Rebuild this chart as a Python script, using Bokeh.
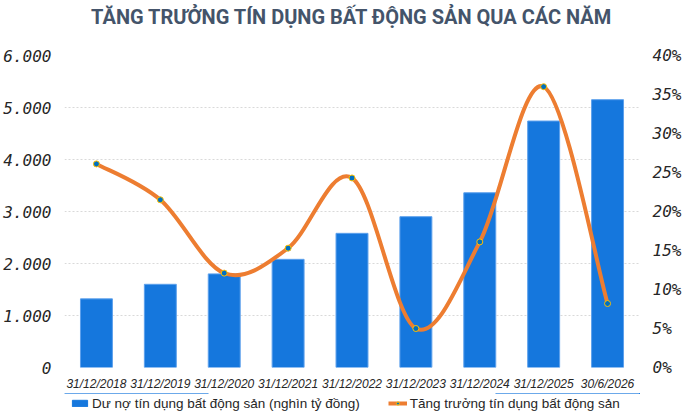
from bokeh.plotting import figure
from bokeh.layouts import column
from bokeh.models import (ColumnDataSource, Range1d, LinearAxis, FixedTicker,
                          Legend, LegendItem, Label)
from bokeh.embed import file_html
from bokeh.resources import INLINE

# Data
periods = ["31/12/2018", "31/12/2019", "31/12/2020", "31/12/2021", "31/12/2022",
           "31/12/2023", "31/12/2024", "31/12/2025", "30/6/2026"]
outstanding = [1320, 1600, 1800, 2080, 2580, 2900, 3360, 4740, 5150]   # nghìn tỷ đồng
growth = [26.1, 21.5, 12.1, 15.3, 24.3, 5.0, 16.1, 36.0, 8.2]          # %

left_ticks = [0, 1000, 2000, 3000, 4000, 5000, 6000]
left_labels = ["0", "1.000", "2.000", "3.000", "4.000", "5.000", "6.000"]
right_ticks = [0, 5, 10, 15, 20, 25, 30, 35, 40]
right_labels = ["0%", "5%", "10%", "15%", "20%", "25%", "30%", "35%", "40%"]

TITLE = "TĂNG TRƯỞNG TÍN DỤNG BẤT ĐỘNG SẢN QUA CÁC NĂM"
BAR_COLOR = "#1577DD"
LINE_COLOR = "#ED7D31"

xs = list(range(len(periods)))


def strip(h):
    f = figure(width=684, height=h, output_backend="svg", toolbar_location=None,
               x_axis_type=None, y_axis_type=None, min_border=0,
               x_range=Range1d(0, 1), y_range=Range1d(0, 1))
    f.outline_line_color = None
    f.grid.grid_line_color = None
    return f


# title strip
tf = strip(33)
tf.add_layout(Label(x=0.5, y=0.5, text=TITLE, text_align="center",
                    text_baseline="middle", text_font="Roboto",
                    text_font_size="20px", text_font_style="bold",
                    text_color="#44546A"))

# main chart
p = figure(width=684, height=360, output_backend="svg", toolbar_location=None,
           x_range=Range1d(-0.5, 8.5), y_range=Range1d(0, 6000),
           min_border_left=56, min_border_right=44, min_border_top=22,
           min_border_bottom=24)
p.outline_line_color = None

bar_src = ColumnDataSource(dict(x=xs, top=outstanding))
p.vbar(x="x", top="top", width=0.5, source=bar_src,
       fill_color=BAR_COLOR, line_color="#5DA0EC", line_width=1)

# smoothed growth line (bezier segments through the data points)
p.extra_y_ranges = {"pct": Range1d(0, 40)}
n = len(xs)
seg = dict(x0=[], y0=[], x1=[], y1=[], cx0=[], cy0=[], cx1=[], cy1=[])
for i in range(n - 1):
    xa, ya = xs[max(i - 1, 0)], growth[max(i - 1, 0)]
    xb, yb = xs[i], growth[i]
    xc, yc = xs[i + 1], growth[i + 1]
    xd, yd = xs[min(i + 2, n - 1)], growth[min(i + 2, n - 1)]
    seg["x0"].append(xb); seg["y0"].append(yb)
    seg["x1"].append(xc); seg["y1"].append(yc)
    seg["cx0"].append(xb + (xc - xa) / 6); seg["cy0"].append(yb + (yc - ya) / 6)
    seg["cx1"].append(xc - (xd - xb) / 6); seg["cy1"].append(yc - (yd - yb) / 6)
p.bezier(x0="x0", y0="y0", x1="x1", y1="y1", cx0="cx0", cy0="cy0",
         cx1="cx1", cy1="cy1", source=ColumnDataSource(seg),
         y_range_name="pct", line_color=LINE_COLOR, line_width=4,
         line_cap="round")
p.scatter(xs, growth, y_range_name="pct", size=6, fill_color="#0070C0",
          line_color="#FFC000", line_width=1)

p.xaxis.ticker = FixedTicker(ticks=xs)
p.xaxis.major_label_overrides = {i: lab for i, lab in zip(xs, periods)}
p.xaxis.major_label_text_font = "Liberation Sans"
p.xaxis.major_label_text_font_style = "italic"
p.xaxis.major_label_text_font_size = "12px"
p.xaxis.major_label_text_color = "#262626"
p.xaxis.major_label_standoff = 9

p.yaxis.ticker = FixedTicker(ticks=left_ticks)
p.yaxis.major_label_overrides = {t: lab for t, lab in zip(left_ticks, left_labels)}

right = LinearAxis(y_range_name="pct", ticker=FixedTicker(ticks=right_ticks))
right.major_label_overrides = {t: lab for t, lab in zip(right_ticks, right_labels)}
p.add_layout(right, "right")

for ax in (p.yaxis[0], right):
    ax.major_label_text_font = "DejaVu Sans Mono"
    ax.major_label_text_font_style = "italic"
    ax.major_label_text_font_size = "16px"
    ax.major_label_text_color = "#262626"
    ax.major_label_standoff = 13

for ax in (p.xaxis[0], p.yaxis[0], right):
    ax.axis_line_color = None
    ax.major_tick_line_color = None
    ax.minor_tick_line_color = None
    ax.major_tick_out = 0
    ax.major_tick_in = 0

p.xgrid.grid_line_color = None
p.ygrid.ticker = FixedTicker(ticks=left_ticks[1:])
p.ygrid.grid_line_color = "#D9D9D9"
p.ygrid.grid_line_dash = "2 2"

# legend strip: sample renderers kept outside the strip's visible range
lf = strip(19)
lf.y_range = Range1d(-2, -1)
lb = lf.vbar(x=xs, top=outstanding, width=0.5, fill_color=BAR_COLOR,
             line_color=BAR_COLOR)
ll = lf.line(xs, growth, line_color=LINE_COLOR, line_width=4)
lm = lf.scatter(xs, growth, size=6, fill_color="#0070C0", line_color="#FFC000")
legend = Legend(items=[
    LegendItem(label="Dư nợ tín dụng bất động sản (nghìn tỷ đồng)", renderers=[lb]),
    LegendItem(label="Tăng trưởng tín dụng bất động sản", renderers=[ll, lm]),
], orientation="horizontal", location=(6, 0))
legend.label_text_font = "Liberation Sans"
legend.label_text_font_size = "13.5px"
legend.label_text_color = "#262626"
legend.glyph_width = 19
legend.glyph_height = 8
legend.label_height = 18
legend.label_standoff = 3
legend.spacing = 28
legend.padding = 0
legend.margin = 0
legend.border_line_color = None
legend.background_fill_alpha = 0
lf.add_layout(legend)

layout = column(tf, p, lf, spacing=0)
open("out.html", "w").write(file_html(layout, INLINE))
